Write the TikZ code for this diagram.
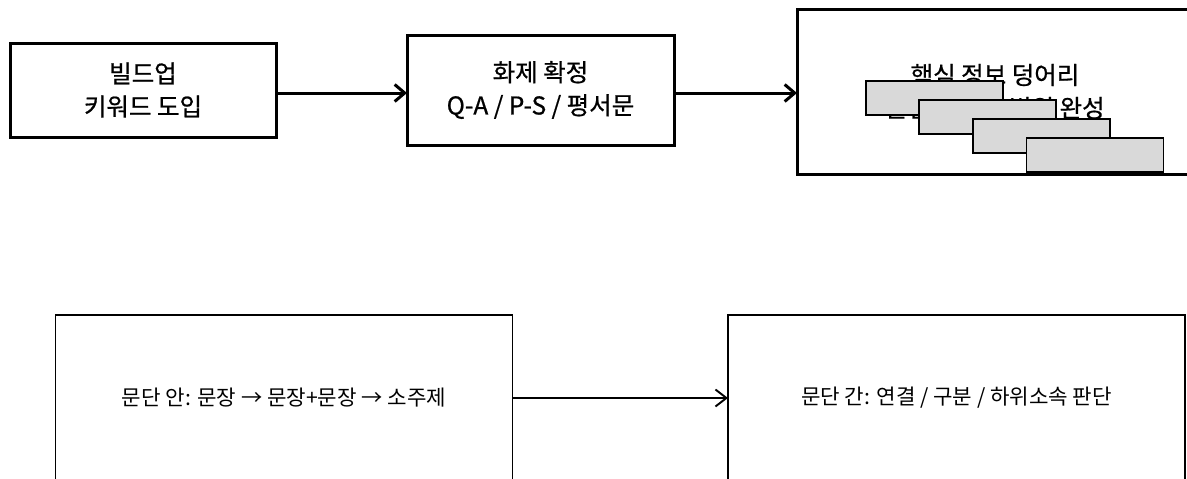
\documentclass[tikz,border=0pt]{standalone}
\usepackage{fontspec}
\setmainfont{Noto Sans CJK KR}
\newfontfamily\medfont{Noto Sans CJK KR}[FakeBold=0.7]
\usetikzlibrary{arrows.meta}
\definecolor{cardgray}{RGB}{217,217,217}
\begin{document}
\begin{tikzpicture}[x=1pt,y=-1pt,
  topbox/.style={draw, line width=3pt, align=center, inner sep=0pt, outer sep=0pt,
    font=\medfont\fontsize{24.5}{33}\selectfont},
  lowbox/.style={draw, line width=1.9pt, align=center, inner sep=0pt, outer sep=0pt,
    minimum width=457pt, minimum height=166pt, font=\fontsize{21.2}{26}\selectfont},
  card/.style={draw, line width=1.3pt, fill=cardgray, inner sep=0pt,
    minimum width=137pt, minimum height=34pt},
  toparr/.style={line width=3pt, -{Straight Barb[length=10pt,width=17pt]}},
  lowarr/.style={line width=1.9pt, -{Straight Barb[length=11pt,width=17pt]}}]
\useasboundingbox (0,0) rectangle (1187,479);
\fill[white] (0,0) rectangle (1187,479);

% top row
\node[topbox, minimum width=266pt, minimum height=94pt] (A) at (143,90)
  {빌드업\\키워드 도입};
\node[topbox, minimum width=267pt, minimum height=110pt] (B) at (540.5,90)
  {화제 확정\\Q-A / P-S / 평서문};
\node[topbox, minimum width=396pt, minimum height=165pt] (C) at (995,91.5)
  {핵심 정보 덩어리\\문단 단위로 범위 완성};

% stacked cards on top of C's text
\node[card] (R1) at (934.5,98) {};
\node[card] (R2) at (987.5,117) {};
\node[card] (R3) at (1041.5,136) {};
\node[card] (R4) at (1095,155) {};

\draw[toparr] ([yshift=-3pt]A.east) -- ([yshift=-3pt]B.west);
\draw[toparr] ([yshift=-3pt]B.east) -- ([yshift=-3pt]B.east -| C.west);

% bottom row
\node[lowbox] (D) at (284,398) {문단 안: 문장 → 문장+문장 → 소주제};
\node[lowbox] (E) at (956.5,398) {문단 간: 연결 / 구분 / 하위소속 판단};
\draw[lowarr] (D.east) -- (E.west);
\end{tikzpicture}
\end{document}
